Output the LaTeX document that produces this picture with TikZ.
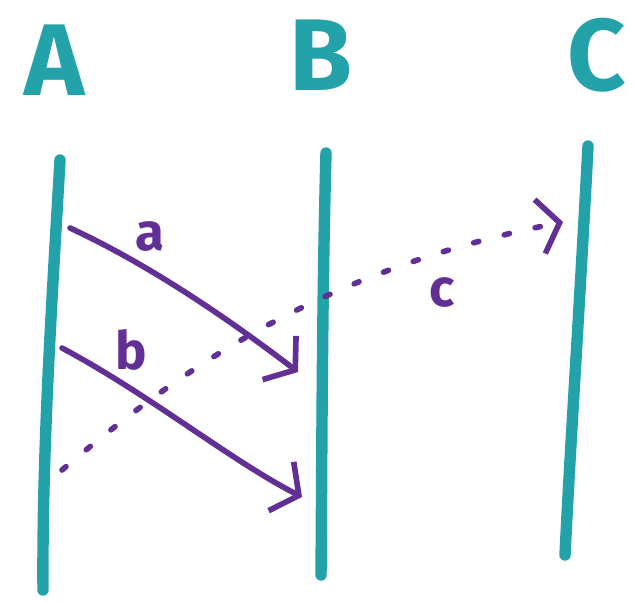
\documentclass[tikz,border=0pt]{standalone}
\usepackage{fontspec}
\setsansfont{Fira Sans}
\usepackage{tikz}
\usetikzlibrary{arrows.meta,positioning,calc}
\definecolor{marker}{RGB}{36, 162, 170}
\definecolor{ink}{RGB}{98, 48, 148}

\begin{document}
\begin{tikzpicture}[
  x=0.02cm, y=-0.02cm,
  every node/.style={font=\sffamily}
]
  % Styles
  \tikzstyle{actor} = [text=marker, font=\sffamily\bfseries\fontsize{58}{60}\selectfont, inner sep=0pt]
  \tikzstyle{lifeline} = [draw=marker, line width=6.5pt, line cap=round]
  \tikzstyle{msg} = [draw=ink, line width=3.2pt, line cap=round, -{Straight Barb[length=4mm, width=11mm, line width=3.2pt]}]
  \tikzstyle{msglabel} = [text=ink, font=\sffamily\bfseries\fontsize{30}{32}\selectfont, inner sep=0pt]

  \useasboundingbox (0,0) rectangle (635,603);

  % Actors
  \node[actor] (A) at (55,60) {A};
  \node[actor] (B) at (321,55) {B};
  \node[actor] (C) at (597,55) {C};

  % Lifelines
  \coordinate (atop) at (60,160);
  \coordinate (abot) at (43,590);
  \coordinate (btop) at (326,153);
  \coordinate (bbot) at (321,575);
  \coordinate (ctop) at (588,146);
  \coordinate (cbot) at (565,555);
  \draw[lifeline] (atop) .. controls (52,300) and (42,450) .. (abot);
  \draw[lifeline] (btop) .. controls (322,300) and (322,450) .. (bbot);
  \draw[lifeline] (ctop) .. controls (580,300) and (570,450) .. (cbot);

  % Messages
  \coordinate (a_from) at (70,228);
  \coordinate (a_to) at (298,372);
  \coordinate (b_from) at (62,348);
  \coordinate (b_to) at (302,497);
  \coordinate (c_from) at (62,470);
  \coordinate (c_to) at (563,222);
  \draw[msg] (a_from) .. controls (150,265) and (230,320) .. (a_to);
  \draw[msg] (b_from) .. controls (150,395) and (230,460) .. (b_to);
  \draw[msg, dash pattern=on 3pt off 15pt] (c_from) .. controls (180,370) and (320,270) .. (c_to);

  % Labels
  \node[msglabel] (la) at (150,236) {a};
  \node[msglabel] (lb) at (131,350) {b};
  \node[msglabel] (lc) at (442,292) {c};
\end{tikzpicture}
\end{document}
